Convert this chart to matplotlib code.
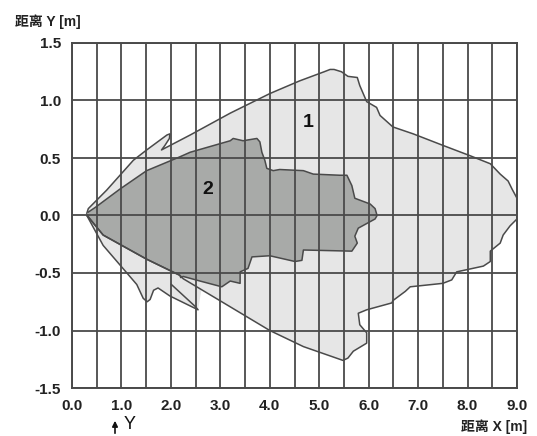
import numpy as np
import matplotlib
matplotlib.use("Agg")
import matplotlib.pyplot as plt

# zone 1 outline (tip -> upper lobe -> right side -> lower straight edge)
zone1_x = [0.30, 0.33, 0.70, 0.97, 1.24, 1.51, 1.92, 1.98, 1.97, 1.88, 1.81, 2.39, 3.20, 4.00,
           4.60, 5.10, 5.22, 5.30, 5.45, 5.58, 5.77, 5.82, 5.96, 6.08, 6.16, 6.23, 6.49, 6.90,
           7.50, 8.05, 8.46, 8.66, 8.82, 8.90, 9.00, 9.02, 9.00, 8.86, 8.72, 8.66, 8.46, 8.46,
           8.32, 7.78, 7.68, 7.50, 6.84, 6.74, 6.49, 6.47, 5.96, 5.79, 5.82, 5.96, 5.96, 5.69,
           5.58, 5.48, 4.68, 4.00, 2.99, 2.25, 2.18, 1.51, 0.63, 0.30]
zone1_y = [0.02, 0.06, 0.22, 0.35, 0.48, 0.57, 0.70, 0.71, 0.67, 0.61, 0.57, 0.70, 0.89, 1.06,
           1.17, 1.25, 1.27, 1.27, 1.25, 1.21, 1.20, 1.13, 0.99, 0.96, 0.94, 0.87, 0.77, 0.71,
           0.61, 0.52, 0.45, 0.36, 0.30, 0.23, 0.15, 0.00, -0.03, -0.09, -0.17, -0.24, -0.31, -0.40,
           -0.44, -0.49, -0.56, -0.59, -0.62, -0.66, -0.74, -0.76, -0.82, -0.85, -0.95, -1.02, -1.11, -1.18,
           -1.24, -1.26, -1.14, -1.00, -0.74, -0.55, -0.52, -0.38, -0.17, 0.00]

# lower lobe of zone 1 with the narrow spike
lobe_x = [0.30, 0.63, 1.03, 1.31, 1.44, 1.52, 1.58, 1.65, 1.74, 1.98, 2.55, 2.49, 2.01]
lobe_y = [0.00, -0.26, -0.46, -0.60, -0.72, -0.75, -0.73, -0.65, -0.63, -0.70, -0.82, -0.79, -0.60]

# zone 2 outline
zone2_x = [0.33, 0.47, 0.97, 1.51, 2.18, 2.39, 3.20, 3.26, 3.46, 3.74, 3.80, 3.84, 3.90, 3.94,
           4.07, 4.20, 4.68, 4.88, 5.42, 5.56, 5.66, 5.72, 6.03, 6.13, 6.17, 6.13, 5.96, 5.79,
           5.72, 5.77, 5.66, 4.68, 4.65, 4.51, 4.00, 3.64, 3.56, 3.40, 3.40, 3.20, 3.03, 2.59,
           2.25, 2.20, 2.18, 1.51, 0.63, 0.31]
zone2_y = [0.03, 0.07, 0.23, 0.39, 0.51, 0.55, 0.65, 0.67, 0.65, 0.67, 0.64, 0.55, 0.48, 0.41,
           0.39, 0.40, 0.39, 0.36, 0.35, 0.35, 0.26, 0.15, 0.10, 0.06, 0.00, -0.03, -0.07, -0.11,
           -0.18, -0.24, -0.31, -0.30, -0.39, -0.40, -0.35, -0.36, -0.46, -0.49, -0.59, -0.57, -0.62, -0.57,
           -0.53, -0.54, -0.52, -0.38, -0.17, 0.00]

x_ticks = [0, 1, 2, 3, 4, 5, 6, 7, 8, 9]
y_ticks = [-1.5, -1.0, -0.5, 0.0, 0.5, 1.0, 1.5]

line_c = "#4a4a4a"
fill1 = "#e6e6e6"
fill2 = "#a8aaa8"

fig = plt.figure(figsize=(5.37, 4.36), dpi=100)
ax = fig.add_axes([72 / 537, 1 - 388 / 436, 445 / 537, 345 / 436])

# fill zone 1 (main body + lobe incl. the wedge above the spike)
i_cut = zone1_x.index(2.25)
fill_x = zone1_x[:i_cut] + [2.62] + lobe_x[::-1][2:]
fill_y = zone1_y[:i_cut] + [-0.64] + lobe_y[::-1][2:]
ax.fill(fill_x + zone1_x[i_cut:], fill_y + zone1_y[i_cut:], color=fill1, lw=0, zorder=1)
ax.fill(lobe_x, lobe_y, color=fill1, lw=0, zorder=1)
ax.fill(zone2_x, zone2_y, color=fill2, lw=0, zorder=2)

# grid
ax.set_xlim(0, 9)
ax.set_ylim(-1.5, 1.5)
ax.set_xticks(np.arange(0, 9.01, 0.5))
ax.set_xticklabels([f"{v:.1f}" if v in x_ticks else "" for v in np.arange(0, 9.01, 0.5)])
ax.set_yticks(y_ticks)
ax.set_yticklabels([f"{v:.1f}" for v in y_ticks])
ax.grid(True, color=line_c, lw=1.3, zorder=3)
ax.set_axisbelow(False)
ax.tick_params(length=0, labelsize=11)
ax.tick_params(axis="x", pad=8)
ax.tick_params(axis="y", pad=8)
for lab in ax.get_xticklabels() + ax.get_yticklabels():
    lab.set_fontfamily("Liberation Sans")
    lab.set_fontweight("bold")
    lab.set_color("#222222")
for s in ax.spines.values():
    s.set_color(line_c)
    s.set_linewidth(1.4)

# outlines
ax.plot(zone1_x, zone1_y, color=line_c, lw=1.1, zorder=4)
ax.plot(lobe_x, lobe_y, color=line_c, lw=1.1, zorder=4)
ax.plot(zone2_x, zone2_y, color=line_c, lw=1.1, zorder=4)

ax.text(4.77, 0.81, "1", fontsize=14, fontweight="bold", family="Liberation Sans",
        ha="center", va="center", color="#111111", zorder=5)
ax.text(2.75, 0.23, "2", fontsize=14, fontweight="bold", family="Liberation Sans",
        ha="center", va="center", color="#111111", zorder=5)

fam = ["Liberation Sans", "Noto Sans CJK SC"]
fig.text(15 / 537, 1 - 22 / 436, "距离 Y [m]", fontsize=10, fontweight="bold", family=fam,
         ha="left", va="center", color="#222222")
fig.text(527 / 537, 1 - 427 / 436, "距离 X [m]", fontsize=10, fontweight="bold", family=fam,
         ha="right", va="center", color="#222222")

fig.text(130 / 537, 1 - 424 / 436, "Y", fontsize=13, family="Liberation Sans",
         ha="center", va="center", color="#111111")
ax.annotate("", xy=(115, 18), xycoords="figure pixels", xytext=(115, 0),
            textcoords="figure pixels",
            arrowprops=dict(arrowstyle="-|>", color="#111111", lw=1.2, mutation_scale=8))

fig.savefig("out.png", dpi=100)
